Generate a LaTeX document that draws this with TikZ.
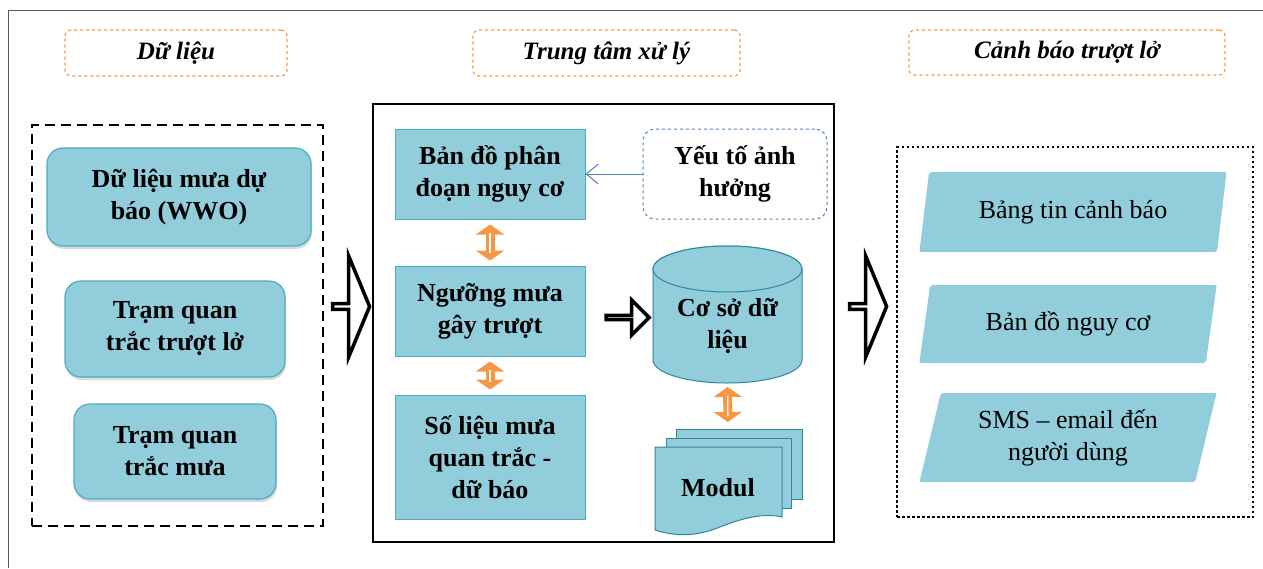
\documentclass[tikz,border=0pt]{standalone}
\usepackage{fontspec}
\setmainfont{Liberation Serif}
\usetikzlibrary{arrows.meta,positioning,shapes.geometric,shapes.arrows,shadows}

\definecolor{boxfill}{HTML}{92CDDC}
\definecolor{boxline}{HTML}{4BACC6}
\definecolor{dbline}{HTML}{31859C}
\definecolor{hdrline}{HTML}{F79646}
\definecolor{factline}{HTML}{4F81BD}
\definecolor{framegray}{HTML}{595959}

\begin{document}
\begin{tikzpicture}[
  x=1pt, y=-1pt,
  > = {Straight Barb[length=12pt,width=20pt]},
  bold/.style = {font=\fontsize{26}{32}\selectfont\bfseries, align=center},
  plain/.style = {font=\fontsize{26}{32}\selectfont, align=center},
  header/.style = {draw=hdrline, dashed, line width=1.2pt, rounded corners=6pt, inner sep=0pt,
    font=\fontsize{25}{28}\selectfont\bfseries\itshape},
  srcbox/.style = {bold, draw=boxline, fill=boxfill, line width=1.2pt, rounded corners=16pt, inner sep=0pt,
    drop shadow={shadow xshift=1pt, shadow yshift=-3pt, opacity=.3}},
  procbox/.style = {bold, draw=boxline, fill=boxfill, line width=1pt, inner sep=0pt, minimum width=190pt},
  factbox/.style = {bold, draw=factline, dashed, line width=1pt, rounded corners=12pt, inner sep=0pt},
  sheet/.style = {draw=dbline, fill=boxfill, line width=1pt},
  outbox/.style = {plain, trapezium, trapezium left angle=75, trapezium right angle=105,
    trapezium stretches=true, fill=boxfill, rounded corners=2pt, inner sep=0pt},
  bigarrow/.style = {single arrow, draw=black, fill=white, line width=3.5pt, inner sep=0pt,
    single arrow head extend=29pt, single arrow tip angle=135, minimum height=37pt, minimum width=101pt},
  smallarrow/.style = {single arrow, draw=black, fill=white, line width=3.5pt, inner sep=0pt,
    single arrow head extend=12pt, minimum height=43pt, minimum width=35pt},
  updown/.style = {draw=hdrline, line width=9pt,
    {Triangle[width=28pt,length=10pt]}-{Triangle[width=28pt,length=10pt]},
    shorten <=5pt, shorten >=5pt,
    postaction={draw=white, line width=1.3pt, arrows=-, shorten <=13pt, shorten >=13pt}},
  grpdata/.style = {draw, dash pattern=on 10pt off 6pt, line width=2.5pt, inner sep=0pt},
  grpcenter/.style = {draw, line width=2.5pt, inner sep=0pt},
  grpwarn/.style = {draw, dash pattern=on 2.5pt off 2.5pt, line width=2.5pt, inner sep=0pt}
  ]
	\useasboundingbox (0,0) rectangle (1263,568);
	\draw[framegray, line width=1pt] (1263,10) -| (8,568);

	% headers
	\node[header, minimum width=222pt, minimum height=46pt] (hdata) at (176,53) {Dữ liệu};
	\node[header, minimum width=267pt, minimum height=46pt] (hcenter) at (606.5,53) {Trung tâm xử lý};
	\node[header, minimum width=316pt, minimum height=45pt] (hwarn) at (1067,52.5) {Cảnh báo trượt lở};

	% groups
	\node[grpdata, minimum width=291pt, minimum height=401pt] (datagrp) at (177.5,325.5) {};
	\node[grpcenter, minimum width=461pt, minimum height=438pt] (centergrp) at (603.5,323) {};
	\node[grpwarn, minimum width=356pt, minimum height=370pt] (warngrp) at (1075,332) {};

	% data sources
	\node[srcbox, minimum width=264pt, minimum height=98pt] (wwo) at (179,197) {Dữ liệu mưa dự\\báo (WWO)};
	\node[srcbox, minimum width=220pt, minimum height=96pt] (slide) at (175,329) {Trạm quan\\trắc trượt lở};
	\node[srcbox, minimum width=202pt, minimum height=95pt] (rain) at (175,451.5) {Trạm quan\\trắc mưa};

	% processing
	\node[procbox, minimum height=90pt] (riskmap) at (490,174) {Bản đồ phân\\đoạn nguy cơ};
	\node[procbox, minimum height=90pt] (threshold) at (490,311) {Ngưỡng mưa\\gây trượt};
	\node[procbox, minimum height=124pt] (rainobs) at (490,457) {Số liệu mưa\\quan trắc -\\dữ báo};
	\node[factbox, minimum width=184pt, minimum height=90pt] (factor) at (735,174) {Yếu tố ảnh\\hưởng};

	% database cylinder
	\draw[sheet] (653,269) -- (653,360) arc (180:0:74.5 and 23) -- (802,269) arc (0:-180:74.5 and 23) -- cycle;
	\draw[sheet] (727.5,269) ellipse [x radius=74.5, y radius=23];
	\node[bold] (db) at (727.5,326) {Cơ sở dữ\\liệu};
	\coordinate (dbbottom) at (727.5,383);

	\draw[sheet] (676,429) rectangle (802,499);
	\draw[sheet] (666,438) rectangle (791,508);
	\draw[sheet] (655,447) -- (782,447) -- (782,517)
		.. controls (765,513) and (745,517) .. (720,527)
		.. controls (700,535) and (680,538) .. (655,530) -- cycle;
	\node[bold] (modul) at (718,488) {Modul};
	\coordinate (modtop) at (728,429);

	% warnings
	\node[outbox, minimum width=308pt, minimum height=80pt] (bulletin) at (1073,212) {Bảng tin cảnh báo};
	\node[outbox, minimum width=298pt, minimum height=78pt] (hazard) at (1068,324) {Bản đồ nguy cơ};
	\node[outbox, minimum width=298pt, minimum height=89pt] (sms) at (1068,437.5) {SMS – email đến\\người dùng};

	% arrows
	\node[bigarrow] (arrin) at (350.5,306.5) {};
	\node[bigarrow] (arrout) at (867.5,306.5) {};
	\node[smallarrow] (arrdb) at (626.5,317.5) {};

	\draw[->, factline, line width=1pt] (factor) -- (riskmap);
	\draw[updown] (riskmap) -- (threshold);
	\draw[updown] (threshold) -- (rainobs);
	\draw[updown, shorten <=4pt, shorten >=7pt] (dbbottom) -- (modtop);

\end{tikzpicture}
\end{document}
